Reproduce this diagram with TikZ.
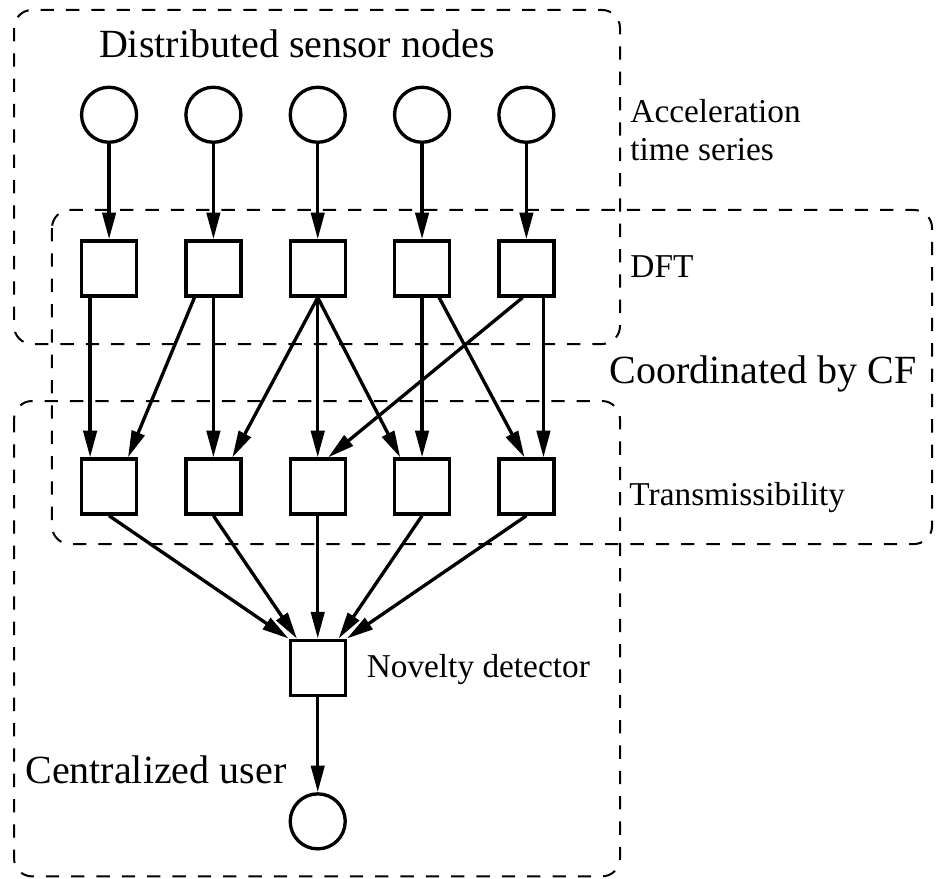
\documentclass[tikz,border=0pt]{standalone}
\usepackage{fontspec}
\setmainfont{Liberation Serif}
\usetikzlibrary{arrows.meta}

\begin{document}
\begin{tikzpicture}[
    every node/.style={inner sep=0pt},
    sensor/.style={circle, draw, line width=1pt, minimum size=0.58cm},
    block/.style={rectangle, draw, line width=1pt, minimum size=0.58cm},
    group/.style={draw, line width=0.6pt, dash pattern=on 4pt off 3.6pt, rounded corners=0.19cm},
    big/.style={font=\fontsize{12}{14}\selectfont},
    small/.style={font=\fontsize{10}{11.2}\selectfont, align=left},
    link/.style={line width=1pt, -{Triangle[length=8pt,width=4pt]}}
]

\useasboundingbox (0,0) rectangle (9.911,-9.258);

\draw[group] (0.148,-0.105) rectangle (6.537,-3.627);
\draw[group] (0.548,-2.214) rectangle (9.827,-5.736);
\draw[group] (0.148,-4.228) rectangle (6.537,-9.240);

\node[sensor] (s1) at (1.15,-1.21) {};
\node[sensor] (s2) at (2.25,-1.21) {};
\node[sensor] (s3) at (3.35,-1.21) {};
\node[sensor] (s4) at (4.45,-1.21) {};
\node[sensor] (s5) at (5.55,-1.21) {};

\node[block] (d1) at (1.15,-2.83) {};
\node[block] (d2) at (2.25,-2.83) {};
\node[block] (d3) at (3.35,-2.83) {};
\node[block] (d4) at (4.45,-2.83) {};
\node[block] (d5) at (5.55,-2.83) {};

\node[block] (t1) at (1.15,-5.13) {};
\node[block] (t2) at (2.25,-5.13) {};
\node[block] (t3) at (3.35,-5.13) {};
\node[block] (t4) at (4.45,-5.13) {};
\node[block] (t5) at (5.55,-5.13) {};

\node[block] (nd) at (3.35,-7.04) {};
\node[sensor] (user) at (3.35,-8.66) {};

\node[big, anchor=base] (sensorsTitle) at (3.13,-0.61) {Distributed sensor nodes};
\node[small, anchor=base west] (accTitle) at (6.64,-1.69) {Acceleration\\time series};
\node[small, anchor=base west] (dftTitle) at (6.64,-2.93) {DFT};
\node[big, anchor=base west] (cfTitle) at (6.42,-4.04) {Coordinated by CF};
\node[small, anchor=base west] (trTitle) at (6.63,-5.33) {Transmissibility};
\node[small, anchor=base west] (ndTitle) at (3.86,-7.14) {Novelty detector};
\node[big, anchor=base west] (userTitle) at (0.26,-8.26) {Centralized user};

\draw[link] (s1) -- (d1);
\draw[link] (s2) -- (d2);
\draw[link] (s3) -- (d3);
\draw[link] (s4) -- (d4);
\draw[link] (s5) -- (d5);

\draw[link] ([xshift=-0.2cm]d1.south) -- ([xshift=-0.2cm]t1.north);
\draw[link] ([xshift=-0.2cm]d2.south) -- ([xshift=0.2cm]t1.north);
\draw[link] (d2) -- (t2);
\draw[link] (d3.south) -- ([xshift=0.2cm]t2.north);
\draw[link] (d3) -- (t3);
\draw[link] (d3.south) -- ([xshift=-0.23cm]t4.north);
\draw[link] (d4) -- (t4);
\draw[link] ([xshift=0.18cm]d4.south) -- ([xshift=-0.02cm]t5.north);
\draw[link] ([xshift=-0.04cm]d5.south) -- ([xshift=0.11cm]t3.north);
\draw[link] ([xshift=0.18cm]d5.south) -- ([xshift=0.18cm]t5.north);

\draw[link] (t1.south) -- (nd.north west);
\draw[link] (t2.south) -- ([xshift=-0.22cm]nd.north);
\draw[link] (t3) -- (nd);
\draw[link] (t4.south) -- ([xshift=0.22cm]nd.north);
\draw[link] (t5.south) -- (nd.north east);

\draw[link] (nd) -- (user);

\end{tikzpicture}
\end{document}
